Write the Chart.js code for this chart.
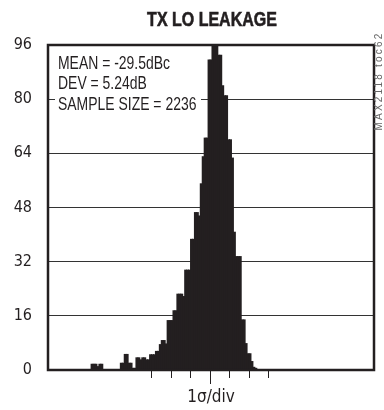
<!DOCTYPE html>
<html>
<head>
<meta charset="utf-8">
<script src="https://cdn.jsdelivr.net/npm/chart.js@4.4.1/dist/chart.umd.min.js"></script>
<style>
  html, body { margin: 0; padding: 0; background: #fff; }
  #wrap { width: 384px; height: 410px; position: relative; }
</style>
</head>
<body>
<div id="wrap"><canvas id="chart"></canvas></div>
<script>
const chartTitle = "TX LO LEAKAGE";
const xAxisTitle = "1σ/div";
const statsLines = ["MEAN = -29.5dBc", "DEV = 5.24dB", "SAMPLE SIZE = 2236"];
const sideNote = "MAX2118 toc62";

// histogram bins, 0.1 sigma wide, first bin starts at -6.1 sigma
const firstBin = -6.1;
const binWidth = 0.1;
const counts = [
    1.7, 1.7, 1.7, 1, 1.7, 1.7,
    0, 0, 0, 0, 0, 0, 0, 0, 0,
    2, 2, 4.6, 4.6, 2, 2, 0.5, 0.5,
    3.6, 3.6, 3, 3.6, 3.6, 3, 3, 4.5, 4.5, 4.5, 5.5, 5.5,
    7.5, 8.7, 8.7, 7.7, 14.6, 14.6, 14.6, 17.5, 17.5, 22.4, 22.4, 22.4, 21.7,
    29.5, 29.5, 29.5, 38.6, 38.6, 46.5, 46.5, 45.5, 55, 63, 68.5, 68.5, 91.6,
    91.6, 96, 96, 96, 93, 93, 84, 81, 81, 68, 68, 62.6,
    40.7, 33.5, 33.5, 33.5, 14.8, 14.8, 7.8, 4.8, 4.8, 2.5, 0.8, 0.5
];

const yTicks = [0, 16, 32, 48, 64, 80, 96];
const xTicks = [-3, -2, -1, 0, 1, 2, 3];
const xRange = [-8.31, 8.41];

const narrowFont = "'DejaVu Sans Condensed', 'Liberation Sans', sans-serif";
const plainFont = "'Liberation Sans', Arial, sans-serif";
const ink = "#231f20";

const points = counts.map((c, i) => ({ x: firstBin + binWidth * (i + 0.5), y: c }));

// Liberation Sans squeezed sideways to look like the condensed face
function squeezedText(ctx, text, x, y, sx) {
    ctx.save();
    ctx.translate(x, y);
    ctx.scale(sx, 1);
    ctx.fillText(text, 0, 0);
    ctx.restore();
}

// title, frame, long center tick, stats box and side note
const extras = {
    id: "extras",
    afterDatasetsDraw(chart) {
        const { ctx, chartArea: a, scales } = chart;
        ctx.save();

        // title (a thin stroke makes it heavier)
        ctx.fillStyle = ink;
        ctx.strokeStyle = ink;
        ctx.lineWidth = 0.6;
        ctx.font = "bold 20px " + plainFont;
        ctx.textAlign = "center";
        ctx.textBaseline = "alphabetic";
        ctx.save();
        ctx.translate(212, 25.5);
        ctx.scale(0.8, 1);
        ctx.fillText(chartTitle, 0, 0);
        ctx.strokeText(chartTitle, 0, 0);
        ctx.restore();

        // stats text on a white patch
        ctx.fillStyle = "#fff";
        ctx.fillRect(a.left + 7, a.top + 5, 146, 63);
        ctx.fillStyle = ink;
        ctx.font = "18px " + plainFont;
        ctx.textAlign = "left";
        const base = [23.5, 44, 64.5];
        for (let i = 0; i < statsLines.length; i++) {
            squeezedText(ctx, statsLines[i], a.left + 10, a.top + base[i], 0.775);
        }

        // plot frame
        ctx.strokeStyle = ink;
        ctx.lineWidth = 2.5;
        ctx.strokeRect(a.left, a.top, a.right - a.left, a.bottom - a.top);

        // longer tick at the mean
        const cx = Math.round(scales.x.getPixelForValue(0)) + 0.5;
        ctx.lineWidth = 1;
        ctx.beginPath();
        ctx.moveTo(cx, a.bottom);
        ctx.lineTo(cx, a.bottom + 14);
        ctx.stroke();

        // rotated note on the right
        ctx.translate(a.right + 5, a.top + 36);
        ctx.rotate(-Math.PI / 2);
        ctx.fillStyle = "#666";
        ctx.font = "10px " + plainFont;
        ctx.letterSpacing = "2.2px";
        ctx.textAlign = "center";
        ctx.textBaseline = "middle";
        ctx.fillText(sideNote, 0, 0);

        ctx.restore();
    }
};

const chart = new Chart(document.getElementById("chart"), {
    type: "bar",
    data: {
        datasets: [{
            data: points,
            backgroundColor: ink,
            borderWidth: 0,
            barPercentage: 1,
            categoryPercentage: 1,
            inflateAmount: 0.5
        }]
    },
    options: {
        responsive: true,
        maintainAspectRatio: false,
        animation: false,
        layout: { padding: { top: 45, left: 0, right: 10, bottom: 0 } },
        plugins: {
            legend: { display: false },
            tooltip: { enabled: false },
            title: { display: false }
        },
        scales: {
            x: {
                type: "linear",
                min: xRange[0],
                max: xRange[1],
                offset: false,
                afterBuildTicks: s => { s.ticks = xTicks.map(v => ({ value: v })); },
                afterFit: s => { s.height = 40; },
                ticks: { display: false },
                border: { display: false },
                grid: {
                    offset: false,
                    drawOnChartArea: false,
                    drawTicks: true,
                    tickLength: 8,
                    color: ink,
                    lineWidth: 1
                },
                title: {
                    display: true,
                    text: xAxisTitle,
                    color: ink,
                    font: { family: narrowFont, size: 17 },
                    padding: { top: 0, bottom: 2 }
                }
            },
            y: {
                min: 0,
                max: 96,
                afterBuildTicks: s => { s.ticks = yTicks.map(v => ({ value: v })); },
                afterFit: s => { s.width = 48; },
                border: { display: false },
                ticks: {
                    color: ink,
                    padding: 16,
                    font: { family: narrowFont, size: 16 }
                },
                grid: {
                    drawTicks: false,
                    color: "#333",
                    lineWidth: 1
                }
            }
        }
    },
    plugins: [extras]
});
</script>
</body>
</html>
